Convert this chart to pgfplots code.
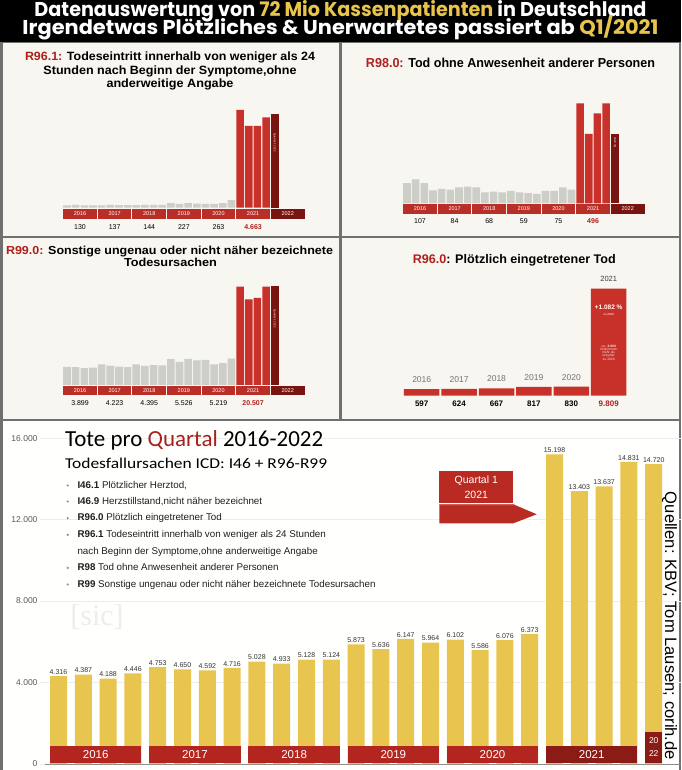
\documentclass[border=0pt]{standalone}
\usepackage{graphicx}
\usepackage{pgfplots}
\pgfplotsset{compat=1.18}
\usepackage{fontspec}
\setmainfont{Liberation Sans}
\setsansfont{Liberation Sans}
\newfontfamily\hdrfont{Poppins}
\newfontfamily\calfont{Carlito}
\newfontfamily\serfont{Liberation Serif}

\definecolor{hy}{HTML}{E8C54A}
\definecolor{tred}{HTML}{B0211C}
\definecolor{rbar}{HTML}{C8302A}
\definecolor{gbar}{HTML}{CDCEC8}
\definecolor{dbar}{HTML}{7A1410}
\definecolor{band}{HTML}{BA2E28}
\definecolor{yelbar}{HTML}{E8C54F}
\definecolor{yband}{HTML}{B3261F}
\definecolor{ydark}{HTML}{8A1B15}
\definecolor{pbg}{HTML}{F7F6F1}
\definecolor{frame}{HTML}{707070}
\definecolor{qred}{HTML}{A8201A}
\definecolor{qbox}{HTML}{B92A23}

% stretch a line of text to a given width, keeping its height
\newcommand\fw[2]{\resizebox{#1}{\height}{#2}}
\newcommand\fs[1]{\fontsize{#1}{#1}\selectfont}

\pgfplotsset{
  mini/.style={scale only axis, hide axis, clip=false, anchor=south west},
}

\begin{document}
\begin{tikzpicture}[x=1pt,y=1pt]
\useasboundingbox (0,0) rectangle (681,770);
\fill[frame] (0,0) rectangle (681,728);
\fill[black] (0,728) rectangle (681,770);
% panels
\fill[pbg] (2.5,534) rectangle (339,726.5);
\fill[pbg] (341.5,534) rectangle (679,726.5);
\fill[pbg] (2.5,351) rectangle (339,532);
\fill[pbg] (341.5,351) rectangle (679,532);
\fill[white!97!pbg] (2.5,0) rectangle (679,348.5);

% header
\node[anchor=base, inner sep=0, white] at (340.5,753.3)
  {\fw{612pt}{\hdrfont\bfseries\fs{20}Datenauswertung von \textcolor{hy}{72 Mio Kassenpatienten} in Deutschland}};
\node[anchor=base, inner sep=0, white] at (340.5,735)
  {\fw{636pt}{\hdrfont\bfseries\fs{20}Irgendetwas Plötzliches \& Unerwartetes passiert ab \textcolor{hy}{Q1/2021}}};

% ---------- panel R96.1 ----------
\node[anchor=base, inner sep=0] at (170,709) {\fw{290pt}{\bfseries\fs{12}\textcolor{tred}{R96.1:} Todeseintritt innerhalb von weniger als 24}};
\node[anchor=base, inner sep=0] at (170,695.5) {\fw{253pt}{\bfseries\fs{12}Stunden nach Beginn der Symptome,ohne}};
\node[anchor=base, inner sep=0] at (170,682) {\fw{127pt}{\bfseries\fs{12}anderweitige Angabe}};
\begin{axis}[mini, at={(62.7pt,562.3pt)}, width=242.3pt, height=113.1pt,
  xmin=-0.5, xmax=27.5, ymin=0, ymax=1500]
\addplot[ybar, bar width=7.6pt, fill=gbar, draw=none] coordinates {
  (0,30)(1,38)(2,31)(3,31)(4,32)(5,36)(6,35)(7,34)(8,35)(9,36)(10,37)(11,36)
  (12,62)(13,50)(14,62)(15,53)(16,50)(17,52)(18,60)(19,101)};
\addplot[ybar, bar width=7.6pt, fill=rbar, draw=none] coordinates {
  (20,1296)(21,1084)(22,1084)(23,1199)};
\addplot[ybar, bar width=7.6pt, fill=dbar, draw=none] coordinates {(24,1243)};
\pgfplotsinvokeforeach{0,...,5}{\fill[band] (axis cs:{4*#1-0.44},-17) rectangle (axis cs:{4*#1+3.44},-150);}
\fill[dbar] (axis cs:23.56,-17) rectangle (axis cs:27.5,-150);
\pgfplotsinvokeforeach{2016,...,2022}{\node[white, font=\fs{5.5}] at (axis cs:{4*(#1-2016)+1.5},-83) {#1};}
\node[white, rotate=-90, font=\fs{2.8}] at (axis cs:24,865) {Quartal 1 2022};
\node[font=\fs{7}] at (axis cs:1.5,-256) {130};
\node[font=\fs{7}] at (axis cs:5.5,-256) {137};
\node[font=\fs{7}] at (axis cs:9.5,-256) {144};
\node[font=\fs{7}] at (axis cs:13.5,-256) {227};
\node[font=\fs{7}] at (axis cs:17.5,-256) {263};
\node[font=\bfseries\fs{7}, text=tred] at (axis cs:21.5,-256) {4.663};
\end{axis}

% ---------- panel R98.0 ----------
\node[anchor=base, inner sep=0] at (510.5,702) {\fw{289pt}{\bfseries\fs{13}\textcolor{tred}{R98.0:} Tod ohne Anwesenheit anderer Personen}};
\begin{axis}[mini, at={(402.7pt,566.7pt)}, width=242.3pt, height=115.9pt,
  xmin=-0.5, xmax=27.5, ymin=0, ymax=160]
\addplot[ybar, bar width=7.6pt, fill=gbar, draw=none] coordinates {
  (0,28)(1,33)(2,28)(3,18)(4,20)(5,19)(6,22)(7,23)(8,22)(9,15)(10,16)(11,15)
  (12,17)(13,15)(14,14)(15,13)(16,17)(17,17)(18,22)(19,19)};
\addplot[ybar, bar width=7.6pt, fill=rbar, draw=none] coordinates {
  (20,138)(21,96)(22,124)(23,138)};
\addplot[ybar, bar width=7.6pt, fill=dbar, draw=none] coordinates {(24,96)};
\pgfplotsinvokeforeach{0,...,5}{\fill[band] (axis cs:{4*#1-0.44},-1.4) rectangle (axis cs:{4*#1+3.44},-14.4);}
\fill[dbar] (axis cs:23.56,-1.4) rectangle (axis cs:27.5,-14.4);
\pgfplotsinvokeforeach{2016,...,2022}{\node[white, font=\fs{5.5}] at (axis cs:{4*(#1-2016)+1.5},-7.9) {#1};}
\node[white, rotate=-90, font=\fs{2.8}] at (axis cs:24,84) {2022 I Q};
\node[font=\fs{7}] at (axis cs:1.5,-24) {107};
\node[font=\fs{7}] at (axis cs:5.5,-24) {84};
\node[font=\fs{7}] at (axis cs:9.5,-24) {68};
\node[font=\fs{7}] at (axis cs:13.5,-24) {59};
\node[font=\fs{7}] at (axis cs:17.5,-24) {75};
\node[font=\bfseries\fs{7}, text=tred] at (axis cs:21.5,-24) {496};
\end{axis}

% ---------- panel R99.0 ----------
\node[anchor=base, inner sep=0] at (169.5,515.8) {\fw{327pt}{\bfseries\fs{11.6}\textcolor{tred}{R99.0:} Sonstige ungenau oder nicht näher bezeichnete}};
\node[anchor=base, inner sep=0] at (170.5,503) {\fw{93pt}{\bfseries\fs{11.6}Todesursachen}};
\begin{axis}[mini, at={(62.7pt,385pt)}, width=242.3pt, height=117.1pt,
  xmin=-0.5, xmax=27.5, ymin=0, ymax=6500]
\addplot[ybar, bar width=7.6pt, fill=gbar, draw=none] coordinates {
  (0,1005)(1,990)(2,935)(3,969)(4,1147)(5,1073)(6,1018)(7,985)
  (8,1140)(9,1060)(10,1100)(11,1095)(12,1430)(13,1280)(14,1445)(15,1371)
  (16,1400)(17,1145)(18,1215)(19,1459)};
\addplot[ybar, bar width=7.6pt, fill=rbar, draw=none] coordinates {
  (20,5460)(21,4750)(22,4830)(23,5467)};
\addplot[ybar, bar width=7.6pt, fill=dbar, draw=none] coordinates {(24,5500)};
\pgfplotsinvokeforeach{0,...,5}{\fill[band] (axis cs:{4*#1-0.44},-55) rectangle (axis cs:{4*#1+3.44},-555);}
\fill[dbar] (axis cs:23.56,-55) rectangle (axis cs:27.5,-555);
\pgfplotsinvokeforeach{2016,...,2022}{\node[white, font=\fs{5.5}] at (axis cs:{4*(#1-2016)+1.5},-305) {#1};}
\node[white, rotate=-90, font=\fs{2.8}] at (axis cs:24,3680) {Quartal 1 2022};
\node[font=\fs{7}] at (axis cs:1.5,-982) {3.899};
\node[font=\fs{7}] at (axis cs:5.5,-982) {4.223};
\node[font=\fs{7}] at (axis cs:9.5,-982) {4.395};
\node[font=\fs{7}] at (axis cs:13.5,-982) {5.526};
\node[font=\fs{7}] at (axis cs:17.5,-982) {5.219};
\node[font=\bfseries\fs{7}, text=tred] at (axis cs:21.5,-982) {20.507};
\end{axis}

% ---------- panel R96.0 ----------
\node[anchor=base, inner sep=0] at (514.3,506.4) {\fw{203pt}{\bfseries\fs{12.5}\textcolor{tred}{R96.0}: Plötzlich eingetretener Tod}};
\begin{axis}[mini, at={(403pt,374.3pt)}, width=224.4pt, height=120.2pt,
  xmin=-0.5, xmax=5.5, ymin=0, ymax=11000]
\addplot[ybar, bar width=35.5pt, fill=rbar, draw=none] coordinates {
  (0,597)(1,624)(2,667)(3,817)(4,830)(5,9809)};
\node[anchor=south, text=black!55, font=\fs{8.5}] at (axis cs:0,597) [yshift=3pt] {2016};
\node[anchor=south, text=black!55, font=\fs{8.5}] at (axis cs:1,624) [yshift=3pt] {2017};
\node[anchor=south, text=black!55, font=\fs{8.5}] at (axis cs:2,667) [yshift=3pt] {2018};
\node[anchor=south, text=black!55, font=\fs{8.5}] at (axis cs:3,817) [yshift=3pt] {2019};
\node[anchor=south, text=black!55, font=\fs{8.5}] at (axis cs:4,830) [yshift=3pt] {2020};
\node[anchor=south, text=black!75, font=\fs{7.5}] at (axis cs:5,9809) [yshift=3.5pt] {2021};
\node[white, font=\bfseries\fs{6.5}] at (axis cs:5,8052) {+1.082 \%};
\node[white, font=\fs{3}] at (axis cs:5,7476) {zu 2020};
\node[white!85!rbar, font=\fs{3.3}, align=center, text width=30pt] at (axis cs:5,3950)
  {ca. \textbf{8.900}\\Vorkommen\\mehr als\\erwartet\\zu 2020};
\node[font=\bfseries\fs{8}] at (axis cs:0,-732) {597};
\node[font=\bfseries\fs{8}] at (axis cs:1,-732) {624};
\node[font=\bfseries\fs{8}] at (axis cs:2,-732) {667};
\node[font=\bfseries\fs{8}] at (axis cs:3,-732) {817};
\node[font=\bfseries\fs{8}] at (axis cs:4,-732) {830};
\node[font=\bfseries\fs{8}, text=tred] at (axis cs:5,-732) {9.809};
\end{axis}

% ---------- bottom panel ----------
\node[text=black!7, font=\serfont\fs{30}] at (97,153) {[sic]};

\begin{axis}[at={(40pt,6pt)}, anchor=south west, scale only axis, clip=false,
  width=641pt, height=342pt, xmin=-0.746, xmax=25.1, ymin=0, ymax=16792,
  axis line style={draw=none}, tick style={draw=none},
  xtick=\empty, ytick={0,4000,8000,12000,16000}, scaled y ticks=false,
  ymajorgrids, grid style={black!7},
  /pgf/number format/.cd, fixed, precision=0, 1000 sep={.}, assume math mode=true,
  /pgfplots/.cd,
  yticklabel style={font=\fs{8.5}, text=black!65, xshift=1pt},
  nodes near coords,
  nodes near coords style={font=\fs{7}, text=black!80, inner sep=1.5pt},
  ]
\draw[black!45] (axis cs:-0.55,0) -- (axis cs:25.1,0);
\addplot[ybar, bar width=17pt, fill=yelbar, draw=none] coordinates {
  (0,4316)(1,4387)(2,4188)(3,4446)
  (4,4753)(5,4650)(6,4592)(7,4716)
  (8,5028)(9,4933)(10,5128)(11,5124)
  (12,5873)(13,5636)(14,6147)(15,5964)
  (16,6102)(17,5586)(18,6076)(19,6373)
  (20,15198)(21,13403)(22,13637)(23,14831)
  (24,14720)};
\pgfplotsinvokeforeach{0,...,4}{\fill[yband] (axis cs:{4*#1-0.343},50) rectangle (axis cs:{4*#1+3.343},886);}
\fill[ydark] (axis cs:19.657,50) rectangle (axis cs:23.343,886);
\fill[ydark] (axis cs:23.657,50) rectangle (axis cs:24.343,1590);
\pgfplotsinvokeforeach{2016,...,2021}{\node[white, font=\fs{11.5}] at (axis cs:{4*(#1-2016)+1.5},468) {#1};}
\node[white, font=\fs{8.5}] at (axis cs:24,1129) {20};
\node[white, font=\fs{8.5}] at (axis cs:24,525) {22};
\end{axis}

% title block
\node[anchor=base west, inner sep=0] at (65,323.3)
  {\fw{258pt}{\calfont\fs{23}Tote pro \textcolor{qred}{Quartal} 2016-2022}};
\node[anchor=base west, inner sep=0] at (65,301)
  {\fw{262pt}{\calfont\fs{15}Todesfallursachen ICD: I46 + R96-R99}};
\begin{scope}[every node/.style={anchor=base west, inner sep=0, text=black!88, font=\fs{9.8}}]
\node at (77.3,281.7) {\textbf{I46.1} Plötzlicher Herztod,};
\node at (77.3,265.7) {\textbf{I46.9} Herzstillstand,nicht näher bezeichnet};
\node at (77.3,249) {\textbf{R96.0} Plötzlich eingetretener Tod};
\node at (77.3,232.3) {\textbf{R96.1} Todeseintritt innerhalb von weniger als 24 Stunden};
\node at (77.3,215.7) {nach Beginn der Symptome,ohne anderweitige Angabe};
\node at (77.3,199.3) {\textbf{R98} Tod ohne Anwesenheit anderer Personen};
\node at (77.3,182.7) {\textbf{R99} Sonstige ungenau oder nicht näher bezeichnete Todesursachen};
\end{scope}
\foreach \yy in {281.7,265.7,249,232.3,199.3,182.7}
  \fill[black!45] (67.7,\yy+2.8) circle (1.2);

% Quartal 1 2021 marker
\fill[qbox] (439.3,267) rectangle (513.3,299);
\node[white, font=\fs{10.5}] at (476.3,289) {Quartal 1};
\node[white, font=\fs{10.5}] at (476.3,274.7) {2021};
\fill[qbox] (439.3,265.7) -- (513.3,265.7) -- (536.7,255.7) -- (513.3,246.7) -- (439.3,246.7) -- cycle;
\fill[white!20!qbox] (439.3,265.7) -- (513.3,265.7) -- (515.6,264.7) -- (439.3,264.7) -- cycle;

% sources
\node[rotate=-90, inner sep=0] at (669.5,144)
  {\fw{268pt}{\fs{16.5}Quellen: KBV; Tom Lausen; corih.de}};
\end{tikzpicture}
\end{document}
